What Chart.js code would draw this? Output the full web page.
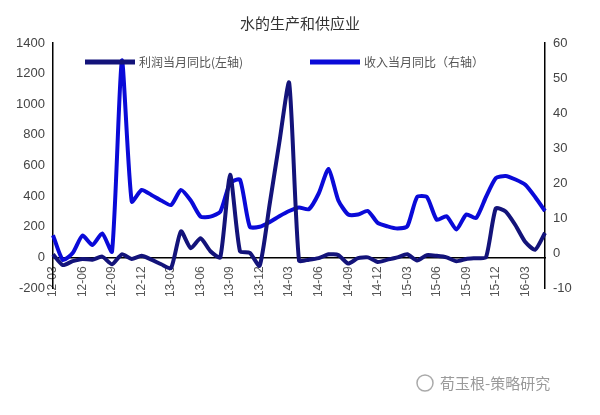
<!DOCTYPE html>
<html>
<head>
<meta charset="utf-8">
<script src="https://cdn.jsdelivr.net/npm/chart.js@4"></script>
<style>
  body { margin: 0; background: #fff; }
  #wrap { width: 600px; height: 415px; }
</style>
</head>
<body>
<div id="wrap"><canvas id="waterChart"></canvas></div>
<script>
// months 12-03 .. 16-05
var months = [];
for (let y = 12; y <= 16; y++) {
  for (let m = 1; m <= 12; m++) {
    if (y == 12 && m < 3) continue;
    if (y == 16 && m > 5) continue;
    months.push(y + "-" + (m < 10 ? "0" + m : m));
  }
}

// 利润当月同比（左轴）
var profitYoY = [20, -50, -25, -10, -15, 5, -45, 20, -10, 10,
  -15, -45, -70, 170, 60, 125, 40, 0, 540, 40,
  30, -55, 340, 750, 1140, -20, -15, -5, 20, 15,
  -40, -5, 0, -30, -15, 0, 20, -20, 15, 10,
  0, -25, -10, -5, 0, 320, 300, 210, 100, 50, 160];

// 收入当月同比（右轴）
var revenueYoY = [5.1, -2, 0, 5, 2.3, 5.6, 0.4, 55, 14.7, 18,
  16.6, 15, 13.7, 18, 15, 10.4, 10.4, 11.8, 20, 21,
  7.5, 7.5, 8.8, 10.5, 12, 13, 12.5, 17, 24, 15,
  11, 11, 12, 8.6, 7.6, 7, 7.6, 16, 16, 9.5,
  10.5, 6.7, 11, 10, 16, 21.4, 22, 21, 19.5, 16, 12];

var leftTicks = [-200, 1400, 200];
var rightTicks = [-10, 60, 10];

// legend drawn by hand so both items sit on one row inside the plot
var topLegend = {
  id: "topLegend",
  afterDraw: function(chart) {
    let ctx = chart.ctx;
    let xs = [85, 310];
    ctx.save();
    ctx.font = "12px 'Noto Sans CJK SC'";
    ctx.textBaseline = "middle";
    chart.data.datasets.forEach(function(ds, i) {
      ctx.strokeStyle = ds.borderColor;
      ctx.lineWidth = 5;
      ctx.beginPath();
      ctx.moveTo(xs[i], 62);
      ctx.lineTo(xs[i] + 50, 62);
      ctx.stroke();
      ctx.fillStyle = "#555";
      ctx.fillText(ds.label, xs[i] + 54, 62);
    });
    ctx.fillStyle = "#9a9a9a";
    ctx.font = "15px 'Noto Sans CJK SC'";
    ctx.fillText("荀玉根-策略研究", 440, 383);
    ctx.strokeStyle = "#aaa";
    ctx.lineWidth = 1.5;
    ctx.beginPath();
    ctx.arc(425, 383, 8, 0, Math.PI * 2);
    ctx.stroke();
    ctx.restore();
  }
};

let ctx = document.getElementById("waterChart").getContext("2d");
new Chart(ctx, {
  type: "line",
  data: {
    labels: months,
    datasets: [{
      label: "利润当月同比(左轴)",
      data: profitYoY,
      yAxisID: "y",
      borderColor: "#13137a",
      borderWidth: 4,
      pointRadius: 0,
      tension: 0.2
    }, {
      label: "收入当月同比（右轴）",
      data: revenueYoY,
      yAxisID: "y1",
      borderColor: "#0a0ad8",
      borderWidth: 4,
      pointRadius: 0,
      tension: 0.2
    }]
  },
  options: {
    responsive: true,
    maintainAspectRatio: false,
    animation: false,
    layout: { padding: { top: 0, bottom: 127, left: 0, right: 0 } },
    plugins: {
      title: {
        display: true,
        text: "水的生产和供应业",
        color: "#333",
        font: { size: 15, family: "'Noto Sans CJK SC'", weight: "normal" },
        padding: { top: 14, bottom: 11 }
      },
      legend: { display: false },
      tooltip: { enabled: false }
    },
    scales: {
      x: {
        position: { y: 0 },
        grid: { display: false, drawTicks: true, tickLength: 5, color: "#000" },
        border: { color: "#000", width: 1.5 },
        ticks: {
          autoSkip: false,
          maxRotation: 90,
          minRotation: 90,
          padding: 4,
          color: "#555",
          font: { size: 12, family: "'Liberation Sans'" },
          callback: function(v, i) { return i % 3 == 0 ? months[i] : ""; }
        }
      },
      y: {
        position: "left",
        min: leftTicks[0], max: leftTicks[1],
        grid: { display: false, drawTicks: true, tickLength: 5 },
        border: { color: "#000", width: 1.5 },
        ticks: {
          stepSize: leftTicks[2], color: "#444",
          font: { size: 13, family: "'Liberation Sans'" },
          callback: function(v) { return String(v); }
        },
        afterFit: function(s) { s.width = 53; }
      },
      y1: {
        position: "right",
        min: rightTicks[0], max: rightTicks[1],
        grid: { display: false, drawTicks: true, tickLength: 5 },
        border: { color: "#000", width: 1.5 },
        ticks: { stepSize: rightTicks[2], color: "#444", font: { size: 13, family: "'Liberation Sans'" } },
        afterFit: function(s) { s.width = 55; }
      }
    }
  },
  plugins: [topLegend]
});
</script>
</body>
</html>
